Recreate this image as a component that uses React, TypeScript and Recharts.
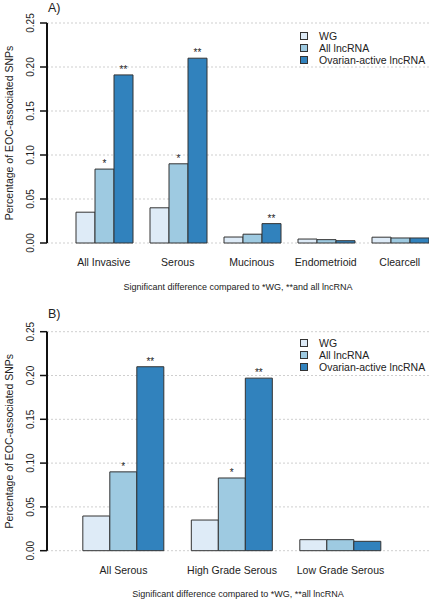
/**
 * EOC SNP enrichment — two grouped bar panels (A: histotypes, B: serous grades)
 */
import React from "react";
import { BarChart, Bar, XAxis, YAxis, CartesianGrid, LabelList } from "recharts";

// Panel A
const catsA = ["All Invasive", "Serous", "Mucinous", "Endometrioid", "Clearcell"];
const wgA = [0.035, 0.04, 0.0068, 0.0045, 0.0066];
const lncA = [0.084, 0.09, 0.01, 0.0038, 0.0057];
const ovA = [0.191, 0.21, 0.022, 0.0026, 0.0057];
const lncStarsA = ["*", "*", "", "", ""];
const ovStarsA = ["**", "**", "**", "", ""];

// Panel B
const catsB = ["All Serous", "High Grade Serous", "Low Grade Serous"];
const wgB = [0.0396, 0.035, 0.0126];
const lncB = [0.09, 0.083, 0.0126];
const ovB = [0.21, 0.197, 0.0107];
const lncStarsB = ["*", "*", ""];
const ovStarsB = ["**", "**", ""];

const yTicks = [0, 0.05, 0.1, 0.15, 0.2, 0.25];
const seriesNames = ["WG", "All lncRNA", "Ovarian-active lncRNA"];
const COLORS = ["#deebf7", "#9ecae1", "#3182bd"];
const FONT = "'Liberation Sans', Arial, sans-serif";
const TEXT = "#222";

function build(cats: string[], wg: number[], lnc: number[], ov: number[], ls: string[], os: string[]) {
  return cats.map((c, i) => ({ cat: c, wg: wg[i], lnc: lnc[i], ov: ov[i], ls: ls[i], os: os[i] }));
}

const YTick = (props: any) => {
  const { x, y, payload } = props;
  return (
    <text
      x={x - 4}
      y={y}
      transform={`rotate(-90 ${x - 4} ${y})`}
      textAnchor="middle"
      fontSize={10}
      fontFamily={FONT}
      fill={TEXT}
    >
      {payload.value.toFixed(2)}
    </text>
  );
};

// legend drawn as plain html so it doesn't eat chart space
const LegendBox = ({ top }: { top: number }) => (
  <div
    style={{
      position: "absolute",
      left: 300,
      top,
      fontFamily: FONT,
      fontSize: 10.5,
      color: TEXT,
      lineHeight: "12px",
    }}
  >
    {seriesNames.map((n, i) => (
      <div key={n} style={{ display: "flex", alignItems: "center" }}>
        <span
          style={{
            width: 6,
            height: 6,
            background: COLORS[i],
            border: "1px solid #333",
            marginRight: 11,
          }}
        />
        <span>{n}</span>
      </div>
    ))}
  </div>
);

interface PanelProps {
  data: any[];
  top: number;
  bottom: number;
  padLeft: number;
  padRight: number;
}

function Panel({ data, top, bottom, padLeft, padRight }: PanelProps) {
  const plotBottom = bottom;
  const CatTick = (props: any) => (
    <text
      x={props.x}
      y={plotBottom + 23}
      textAnchor="middle"
      fontSize={10.5}
      fontFamily={FONT}
      fill={TEXT}
    >
      {props.payload.value}
    </text>
  );
  return (
    <BarChart
      width={437}
      height={300}
      data={data}
      margin={{ top, right: 0, bottom: 300 - bottom - 30, left: 0 }}
      barCategoryGap="12.5%"
      barGap={0}
    >
      <CartesianGrid vertical={false} stroke="#cfcfcf" strokeDasharray="2 2" />
      <XAxis
        dataKey="cat"
        axisLine={false}
        tickLine={false}
        height={30}
        padding={{ left: padLeft, right: padRight }}
        tick={<CatTick />}
        interval={0}
      />
      <YAxis
        width={47}
        domain={[0, 0.25]}
        ticks={yTicks}
        tickSize={7}
        tick={<YTick />}
        axisLine={{ stroke: "#111", strokeWidth: 2 }}
        tickLine={{ stroke: "#111", strokeWidth: 1.5 }}
        label={{
          content: ({ viewBox }: any) => (
            <text
              x={13}
              y={viewBox.y + viewBox.height / 2}
              transform={`rotate(-90 13 ${viewBox.y + viewBox.height / 2})`}
              textAnchor="middle"
              fontSize={10.5}
              fontFamily={FONT}
              fill={TEXT}
            >
              Percentage of EOC-associated SNPs
            </text>
          ),
        }}
      />
      <Bar dataKey="wg" name={seriesNames[0]} fill={COLORS[0]} stroke="#333" strokeWidth={1} isAnimationActive={false} />
      <Bar dataKey="lnc" name={seriesNames[1]} fill={COLORS[1]} stroke="#333" strokeWidth={1} isAnimationActive={false}>
        <LabelList dataKey="ls" position="top" offset={2} fontSize={10} fill={TEXT} fontFamily={FONT} />
      </Bar>
      <Bar dataKey="ov" name={seriesNames[2]} fill={COLORS[2]} stroke="#333" strokeWidth={1} isAnimationActive={false}>
        <LabelList dataKey="os" position="top" offset={2} fontSize={10} fill={TEXT} fontFamily={FONT} />
      </Bar>
    </BarChart>
  );
}

export default function App() {
  const dataA = build(catsA, wgA, lncA, ovA, lncStarsA, ovStarsA);
  const dataB = build(catsB, wgB, lncB, ovB, lncStarsB, ovStarsB);
  const title: React.CSSProperties = {
    position: "absolute",
    fontFamily: FONT,
    fontSize: 12.5,
    color: TEXT,
  };
  const note: React.CSSProperties = {
    position: "absolute",
    left: 47,
    width: 382,
    textAlign: "center",
    fontFamily: FONT,
    fontSize: 9,
    color: TEXT,
  };
  return (
    <div style={{ position: "relative", width: 429, height: 600, overflow: "hidden", background: "#fff" }}>
      <style>{`body{margin:0}`}</style>
      <div style={{ position: "absolute", left: 0, top: 0 }}>
        <Panel data={dataA} top={23} bottom={243} padLeft={19.75} padRight={0.25} />
      </div>
      <div style={{ position: "absolute", left: 0, top: 300 }}>
        <Panel data={dataB} top={31.7} bottom={250.7} padLeft={22.25} padRight={42.25} />
      </div>
      <LegendBox top={30} />
      <LegendBox top={337} />
      <div style={{ ...title, left: 48, top: 1 }}>A)</div>
      <div style={{ ...title, left: 48, top: 307 }}>B)</div>
      <div style={{ ...note, top: 282 }}>Significant difference compared to *WG, **and all lncRNA</div>
      <div style={{ ...note, top: 589 }}>Significant difference compared to *WG, **all lncRNA</div>
    </div>
  );
}
